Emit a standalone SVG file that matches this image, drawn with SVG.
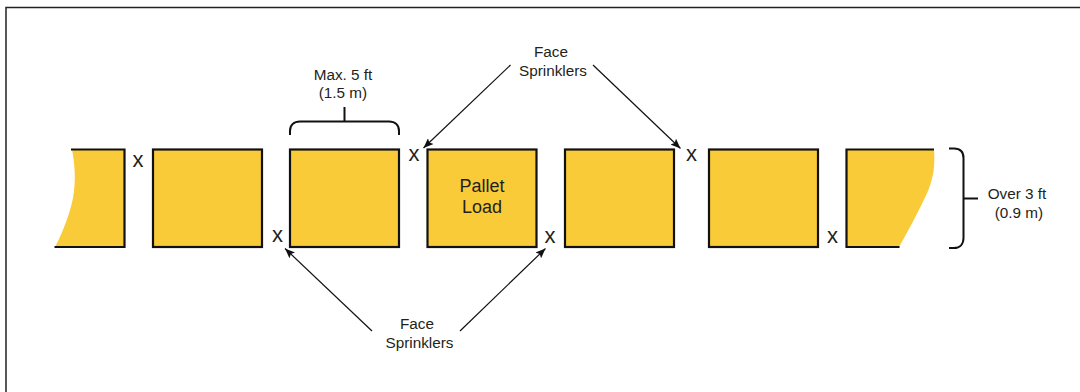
<svg xmlns="http://www.w3.org/2000/svg" width="1080" height="392" viewBox="0 0 1080 392">
<style>
text{font-family:"Liberation Sans",Arial,sans-serif;fill:#231f20;text-anchor:middle}
.l{font-size:15.300px}
.p{font-size:18px}
.x{font-size:22px}
.box{fill:#facb38;stroke:#111;stroke-width:2.2}
.fill{fill:#facb38;stroke:none}
.edge{fill:none;stroke:#111;stroke-width:2.2}
.br{fill:none;stroke:#111;stroke-width:2}
.ar{fill:none;stroke:#111;stroke-width:1.2;marker-end:url(#a)}
</style>
<defs>
<marker id="a" viewBox="0 0 10 8" refX="10" refY="4" markerWidth="10" markerHeight="8" markerUnits="userSpaceOnUse" orient="auto"><path d="M0 0L10 4L0 8L2 4Z" fill="#111"/></marker>
</defs>
<rect width="1080" height="392" fill="#fff"/>
<path d="M6 392V7.500H1080" fill="none" stroke="#222" stroke-width="1.500"/>
<g id="pallet-left">
<path class="fill" d="M72 149.500C75 165 76 182 73 198C70 213 63 232 55 247H124.500V149.500Z"/>
<path class="edge" d="M71 149.500H124.500V247H54.500"/>
</g>
<g id="pallet-2"><rect class="box" x="153" y="149.500" width="109" height="97.500"/></g>
<g id="pallet-3"><rect class="box" x="290" y="149.500" width="109" height="97.500"/></g>
<g id="pallet-load">
<rect class="box" x="427.500" y="149.500" width="109" height="97.500"/>
<text class="p" x="482" y="191.500">Pallet</text>
<text class="p" x="482" y="212.500">Load</text>
</g>
<g id="pallet-5"><rect class="box" x="565" y="149.500" width="109" height="97.500"/></g>
<g id="pallet-6"><rect class="box" x="709" y="149.500" width="109" height="97.500"/></g>
<g id="pallet-right">
<path class="fill" d="M846.500 149.500H934C935 165 934 176 928 191C921 207 908 231 899 247H846.500Z"/>
<path class="edge" d="M934 149.500H846.500V247H899.500"/>
</g>
<g id="sprinkler-marks">
<text class="x" x="138" y="167">x</text>
<text class="x" x="277.500" y="242">x</text>
<text class="x" x="414" y="161">x</text>
<text class="x" x="550" y="243">x</text>
<text class="x" x="691.500" y="161">x</text>
<text class="x" x="832.500" y="243">x</text>
</g>
<g id="connectors">
<path class="ar" d="M510.500 65L423.500 148"/>
<path class="ar" d="M593 65L680.500 148.500"/>
<path class="ar" d="M372 331L285 248.500"/>
<path class="ar" d="M460 331L545.500 248.500"/>
<path class="br" d="M290 135V131C290 125 294 121.500 300 121.500H389C395 121.500 399 125 399 131V135M344.500 121.500V107"/>
<path class="br" d="M949 148.500H954C960 148.500 963.500 152 963.500 158V238C963.500 244 960 248 954 248H949M963.500 198.500H978"/>
</g>
<g id="labels">
<text class="l" x="343" y="80">Max. 5 ft</text>
<text class="l" x="343" y="98">(1.5 m)</text>
<text class="l" x="551" y="57">Face</text>
<text class="l" x="553" y="76">Sprinklers</text>
<text class="l" x="417" y="329">Face</text>
<text class="l" x="419.500" y="348">Sprinklers</text>
<text class="l" x="1017" y="199">Over 3 ft</text>
<text class="l" x="1019" y="218">(0.9 m)</text>
</g>
</svg>
